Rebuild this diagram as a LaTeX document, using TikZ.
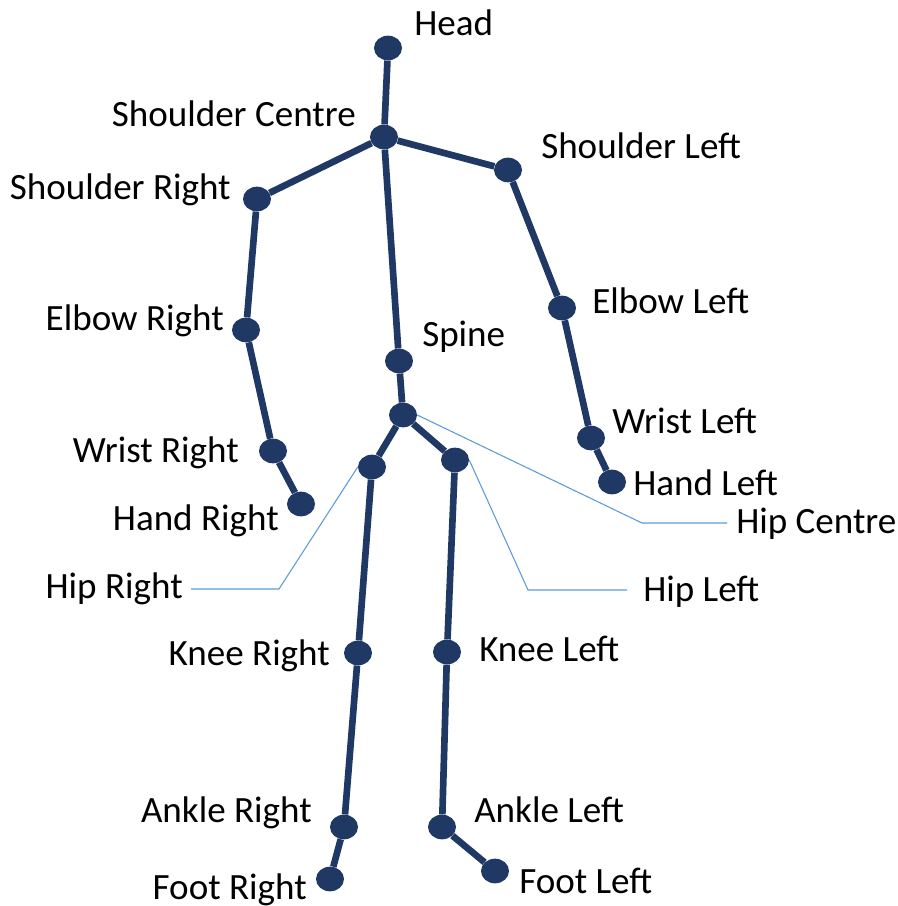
\documentclass[tikz,border=0pt]{standalone}
\usepackage{fontspec}
\setmainfont{Carlito}
\usetikzlibrary{shapes.geometric}
\definecolor{navy}{HTML}{203864}
\definecolor{leadblue}{HTML}{5B9BD5}

\begin{document}
\begin{tikzpicture}[x=0.75pt,y=-0.75pt, every node/.style={font=\fontsize{27.8}{33}\selectfont},
  joint/.style={ellipse,fill=navy,minimum width=21pt,minimum height=18.5pt,inner sep=0pt},
  bone/.style={draw=navy,line width=5pt}, leader/.style={draw=leadblue,line width=0.8pt},
  lbl/.style={inner sep=0pt}]
  \useasboundingbox (0,0) rectangle (898,906);

  % joints
  \node[joint] (head) at (388,48) {};
  \node[joint] (shc) at (384,137) {};
  \node[joint] (shl) at (508,170) {};
  \node[joint] (shr) at (257,199) {};
  \node[joint] (elr) at (246,330) {};
  \node[joint] (ell) at (562,308) {};
  \node[joint] (wrr) at (273,451) {};
  \node[joint] (wrl) at (591,438) {};
  \node[joint] (har) at (301,504) {};
  \node[joint] (hal) at (612,482) {};
  \node[joint] (spine) at (399,361) {};
  \node[joint] (hipc) at (403,415) {};
  \node[joint] (hipr) at (372,467) {};
  \node[joint] (hipl) at (455,460) {};
  \node[joint] (knr) at (358,653) {};
  \node[joint] (knl) at (447,652) {};
  \node[joint] (ankr) at (344,827) {};
  \node[joint] (ankl) at (442,827) {};
  \node[joint] (ftr) at (330,879) {};
  \node[joint] (ftl) at (495,871) {};

  % bones
  \draw[bone] (head) -- (shc);
  \draw[bone] (shc) -- (spine) -- (hipc);
  \draw[bone] (shc) -- (shr) -- (elr) -- (wrr) -- (har);
  \draw[bone] (shc) -- (shl) -- (ell) -- (wrl) -- (hal);
  \draw[bone] (hipc) -- (hipr) -- (knr) -- (ankr) -- (ftr);
  \draw[bone] (hipc) -- (hipl) -- (knl) -- (ankl) -- (ftl);

  % leader lines for the hips
  \draw[leader] (hipc.east) -- (642,523) coordinate (lc) -- (727,523) coordinate (lce);
  \draw[leader] (hipr.west) -- (279,589) coordinate (lr) -- (191,589) coordinate (lre);
  \draw[leader] (hipl.east) -- (528,590) coordinate (ll) -- (627,590) coordinate (lle);

  % labels
  \node[lbl,anchor=base west] at (414,36) {Head};
  \node[lbl,anchor=base east] at (356,126) {Shoulder Centre};
  \node[lbl,anchor=base west] at (541,158) {Shoulder Left};
  \node[lbl,anchor=base east] at (231,199) {Shoulder Right};
  \node[lbl,anchor=base east] at (224,330) {Elbow Right};
  \node[lbl,anchor=base west] at (592,313) {Elbow Left};
  \node[lbl,anchor=base west] at (422,346) {Spine};
  \node[lbl,anchor=base west] at (612,433) {Wrist Left};
  \node[lbl,anchor=base east] at (239,462) {Wrist Right};
  \node[lbl,anchor=base west] at (633,495) {Hand Left};
  \node[lbl,anchor=base east] at (279,530) {Hand Right};
  \node[lbl,anchor=base west] at (736,533) {Hip Centre};
  \node[lbl,anchor=base east] at (183,598) {Hip Right};
  \node[lbl,anchor=base west] at (643,601) {Hip Left};
  \node[lbl,anchor=base east] at (330,665) {Knee Right};
  \node[lbl,anchor=base west] at (479,661) {Knee Left};
  \node[lbl,anchor=base east] at (312,822) {Ankle Right};
  \node[lbl,anchor=base west] at (474,822) {Ankle Left};
  \node[lbl,anchor=base east] at (307,899) {Foot Right};
  \node[lbl,anchor=base west] at (519,893) {Foot Left};
\end{tikzpicture}
\end{document}
